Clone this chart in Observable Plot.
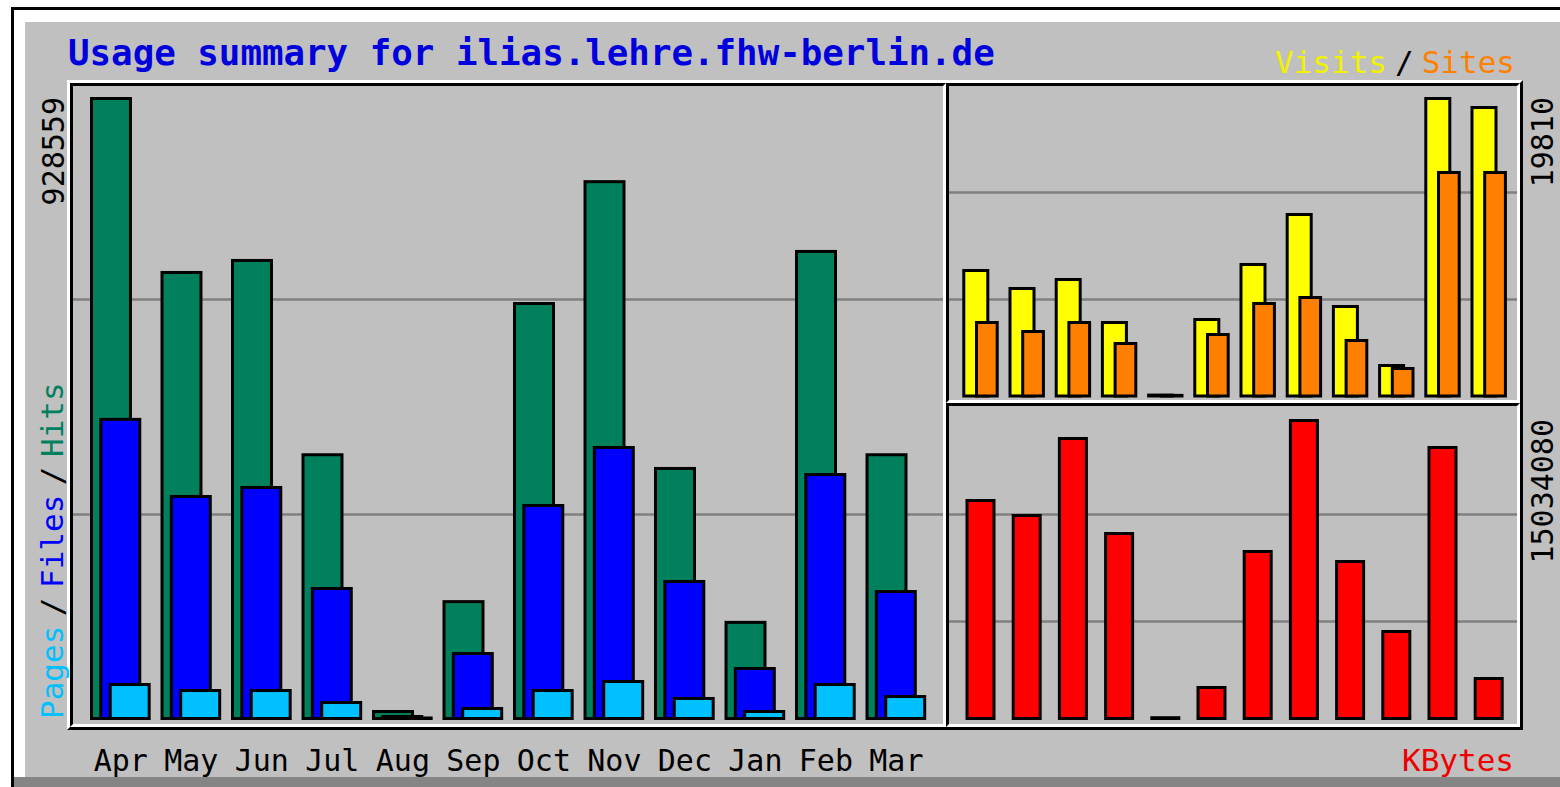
<!DOCTYPE html>
<html><head><meta charset="utf-8">
<script src="https://cdn.jsdelivr.net/npm/d3@7"></script>
<script src="https://cdn.jsdelivr.net/npm/@observablehq/plot@0.6"></script>
<style>
html,body{margin:0;padding:0;background:#fff;}
#page{position:relative;width:1560px;height:787px;overflow:hidden;background:#fff;font-family:"DejaVu Sans Mono",monospace;}
.box{position:absolute;box-sizing:border-box;}
.txt{position:absolute;white-space:nowrap;font-family:"DejaVu Sans Mono",monospace;}
.sl{color:#000;margin:0 8px;}
.sl2{color:#000;margin:0 9.5px;}
</style></head><body>
<div id="page">
  <div class="box" style="left:11px;top:7px;width:1549px;height:780px;border-left:3px solid #000;border-top:3px solid #000;"></div>
  <div class="box" style="left:25px;top:22px;width:1535px;height:755px;background:#c0c0c0;"></div>
  <div class="box" style="left:14px;top:777px;width:1546px;height:10px;background:#858585;"></div>
  <div class="box" style="left:67px;top:80px;width:1456px;height:650px;border-top:3px solid #fff;border-left:3px solid #fff;border-right:3px solid #000;border-bottom:3px solid #000;"></div>
  <div class="box" style="left:70px;top:83px;width:876px;height:644px;border-top:3px solid #000;border-left:3px solid #000;border-right:3px solid #fff;border-bottom:3px solid #fff;"></div>
  <div class="box" style="left:946px;top:83px;width:574px;height:320px;border-top:3px solid #000;border-left:3px solid #000;border-right:3px solid #fff;border-bottom:3px solid #fff;"></div>
  <div class="box" style="left:946px;top:403px;width:574px;height:324px;border-top:3px solid #000;border-left:3px solid #000;border-right:3px solid #fff;border-bottom:3px solid #fff;"></div>

  <div class="txt" style="left:68px;top:35px;font-size:35.8px;line-height:35.8px;font-weight:bold;color:#0000dd;">Usage summary for ilias.lehre.fhw-berlin.de</div>
  <div class="txt" style="left:1275px;top:47px;font-size:31px;line-height:31px;"><span style="color:#f2f200">Visits</span><span class="sl">/</span><span style="color:#ff8000">Sites</span></div>
  <div class="txt" style="left:1402px;top:745px;font-size:31px;line-height:31px;color:#ee0000;">KBytes</div>
  <div class="txt" style="left:37px;top:719px;font-size:31px;line-height:31px;transform-origin:0 0;transform:rotate(-90deg);"><span style="color:#00c0ff">Pages</span><span class="sl2">/</span><span style="color:#0000ff">Files</span><span class="sl2">/</span><span style="color:#00805c">Hits</span></div>

  <div id="left" class="box" style="left:25px;top:86px;width:918px;height:701px;"></div>
  <div id="tr" class="box" style="left:949px;top:86px;width:611px;height:314px;"></div>
  <div id="br" class="box" style="left:949px;top:406px;width:611px;height:318px;"></div>
</div>
<script>
const months = ["Apr","May","Jun","Jul","Aug","Sep","Oct","Nov","Dec","Jan","Feb","Mar"];
const hits   = [928559, 668000, 686000, 395000, 10500, 175000, 621500, 804000, 374500, 144000, 699500, 395000];
const files  = [448000, 332500, 346000, 194700, 3000, 97300, 319000, 405900, 205200, 74900, 365400, 190200];
const pages  = [50900, 41900, 41900, 24000, 800, 15000, 41900, 55400, 30000, 10500, 50900, 32900];
const visits = [8357, 7158, 7757, 4894, 60, 5094, 8756, 12086, 5960, 2031, 19810, 19211];
const sites  = [4894, 4295, 4894, 3496, 40, 4095, 6159, 6559, 3696, 1831, 14883, 14883];
const kbytes = [10998000, 10241000, 14126000, 9333000, 40000, 1564000, 8425000, 15034080, 7921000, 4389000, 13672000, 2018000];

const rows = months.map((m, i) => ({month: m, hits: hits[i], files: files[i], pages: pages[i], visits: visits[i], sites: sites[i], kbytes: kbytes[i]}));
const hitsMax = d3.max(hits), visitsMax = d3.max(visits), kbMax = d3.max(kbytes);

const baseStyle = {background: "transparent", overflow: "visible", fontFamily: "DejaVu Sans Mono", fontSize: "30px", color: "black"};
const bar = {stroke: "black", strokeWidth: 3};
const grid = {stroke: "#808080", strokeWidth: 2.5};

const leftPlot = Plot.plot({
  width: 918, height: 701,
  marginLeft: 48, marginRight: 0, marginTop: 0, marginBottom: 63,
  style: baseStyle,
  x: {domain: months, range: [66.5, 899.7], paddingInner: 0.182, paddingOuter: 0, align: 0.5, round: false, tickSize: 0, tickPadding: 25, label: null},
  y: {domain: [0, hitsMax], range: [632.5, 12.5], axis: null},
  marks: [
    Plot.ruleY([hitsMax * 0.6766, hitsMax * 0.3298], grid),
    Plot.barY(rows, {x: "month", y: "hits", fill: "#00805c", ...bar, insetRight: 18.7}),
    Plot.barY(rows, {x: "month", y: "files", fill: "#0000ff", ...bar, insetLeft: 9.3, insetRight: 9.4}),
    Plot.barY(rows, {x: "month", y: "pages", fill: "#00c0ff", ...bar, insetLeft: 18.7}),
    Plot.text([hitsMax], {y: d => d, text: d => String(d), frameAnchor: "left", dx: -19.6, dy: -2, rotate: -90, textAnchor: "end", fontSize: 30, fill: "black"})
  ]
});
document.getElementById("left").appendChild(leftPlot);

const trPlot = Plot.plot({
  width: 611, height: 314,
  marginLeft: 0, marginRight: 43, marginTop: 0, marginBottom: 0,
  style: baseStyle,
  x: {domain: months, range: [14.8, 556.4], paddingInner: 0.277, paddingOuter: 0, align: 0.5, round: false, axis: null},
  y: {domain: [0, visitsMax], range: [310, 12.5], axis: null},
  marks: [
    Plot.ruleY([visitsMax * 0.6857, visitsMax * 0.326], grid),
    Plot.barY(rows, {x: "month", y: "visits", fill: "#ffff00", ...bar, insetRight: 9.4}),
    Plot.barY(rows, {x: "month", y: "sites", fill: "#ff8000", ...bar, insetLeft: 12.7}),
    Plot.text([visitsMax], {y: d => d, text: d => String(d), frameAnchor: "right", dx: 25.5, dy: -2, rotate: -90, textAnchor: "end", fontSize: 30, fill: "black"})
  ]
});
document.getElementById("tr").appendChild(trPlot);

const brPlot = Plot.plot({
  width: 611, height: 318,
  marginLeft: 0, marginRight: 43, marginTop: 0, marginBottom: 0,
  style: baseStyle,
  x: {domain: months, range: [14.8, 556.4], paddingInner: 0.277, paddingOuter: 0, align: 0.5, round: false, axis: null},
  y: {domain: [0, kbMax], range: [312.5, 14.5], axis: null},
  marks: [
    Plot.ruleY([kbMax * 0.6862, kbMax * 0.3272], grid),
    Plot.barY(rows, {x: "month", y: "kbytes", fill: "#ff0000", ...bar, insetLeft: 3.2, insetRight: 3.2}),
    Plot.text([kbMax], {y: d => d, text: d => String(d), frameAnchor: "right", dx: 25.5, dy: -2, rotate: -90, textAnchor: "end", fontSize: 30, fill: "black"})
  ]
});
document.getElementById("br").appendChild(brPlot);
</script>
</body></html>
